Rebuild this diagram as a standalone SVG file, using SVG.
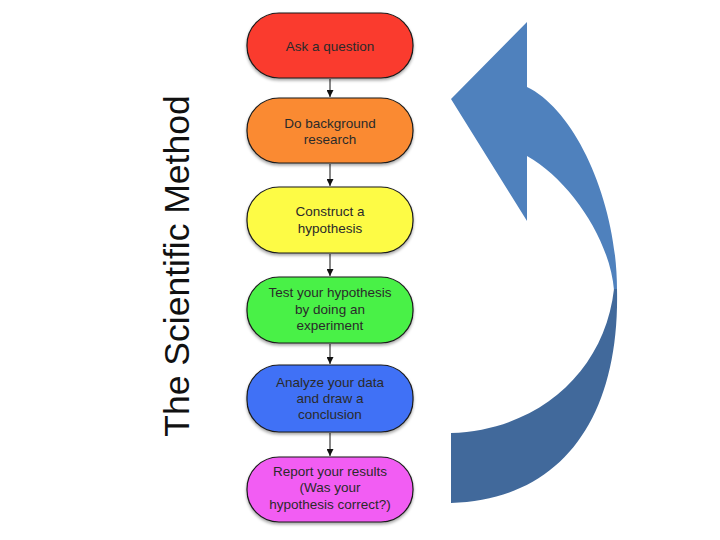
<svg xmlns="http://www.w3.org/2000/svg" width="720" height="540" viewBox="0 0 720 540">
<defs>
<marker id="ah" viewBox="0 0 10 10" refX="10" refY="5" markerWidth="7" markerHeight="7" markerUnits="userSpaceOnUse" orient="auto"><path d="M0,0 L10,5 L0,10 Z" fill="#111"/></marker>
<filter id="sh" x="-10%" y="-10%" width="120%" height="130%"><feDropShadow dx="0" dy="2" stdDeviation="1.5" flood-color="#000" flood-opacity="0.35"/></filter>
</defs>
<style>
.box{stroke:#1a1a1a;stroke-width:1.2;filter:url(#sh)}
.t{font-family:"Liberation Sans",Arial,sans-serif;font-size:13.5px;fill:#2a2a2a;text-anchor:middle}
.c{stroke:#111;stroke-width:1;fill:none;marker-end:url(#ah)}
</style>
<rect width="720" height="540" fill="#fff"/>
<text transform="translate(189,266) rotate(-90)" x="0" y="0" text-anchor="middle" font-family="Liberation Sans,Arial,sans-serif" font-size="35.5" fill="#111">The Scientific Method</text>
<g id="cycle-arrow">
<path d="M527,22 L451,99 L527,221 L527,156 C570,180 610,240 614,290 L617,290 C617,200 575,110 527,87 Z" fill="#4F81BD"/>
<path d="M614,289 C605,370 540,430 451,433 L451,503 C560,500 620,420 617,289 Z" fill="#41699B"/>
</g>
<g id="connectors">
<line class="c" x1="330" y1="79" x2="330" y2="97"/>
<line class="c" x1="330" y1="164" x2="330" y2="186"/>
<line class="c" x1="330" y1="254" x2="330" y2="276"/>
<line class="c" x1="330" y1="344" x2="330" y2="364"/>
<line class="c" x1="330" y1="433" x2="330" y2="456"/>
</g>
<g id="n1"><rect class="box" x="247" y="13" width="166" height="65" rx="32" fill="#FA3B2D"/><text class="t" x="330" y="51">Ask a question</text></g>
<g id="n2"><rect class="box" x="247" y="98" width="166" height="65" rx="32" fill="#FA8A33"/><text class="t" x="330" y="128">Do background</text><text class="t" x="330" y="144">research</text></g>
<g id="n3"><rect class="box" x="247" y="187" width="166" height="66" rx="32" fill="#FDFB44"/><text class="t" x="330" y="216">Construct a</text><text class="t" x="330" y="233">hypothesis</text></g>
<g id="n4"><rect class="box" x="247" y="277" width="166" height="66" rx="32" fill="#48F146"/><text class="t" x="330" y="297">Test your hypothesis</text><text class="t" x="330" y="314">by doing an</text><text class="t" x="330" y="330">experiment</text></g>
<g id="n5"><rect class="box" x="247" y="365" width="166" height="67" rx="32" fill="#3F71F6"/><text class="t" x="330" y="387">Analyze your data</text><text class="t" x="330" y="403">and draw a</text><text class="t" x="330" y="419">conclusion</text></g>
<g id="n6"><rect class="box" x="247" y="457" width="166" height="65" rx="32" fill="#F25DF3"/><text class="t" x="330" y="476">Report your results</text><text class="t" x="330" y="492">(Was your</text><text class="t" x="330" y="509">hypothesis correct?)</text></g>
</svg>
